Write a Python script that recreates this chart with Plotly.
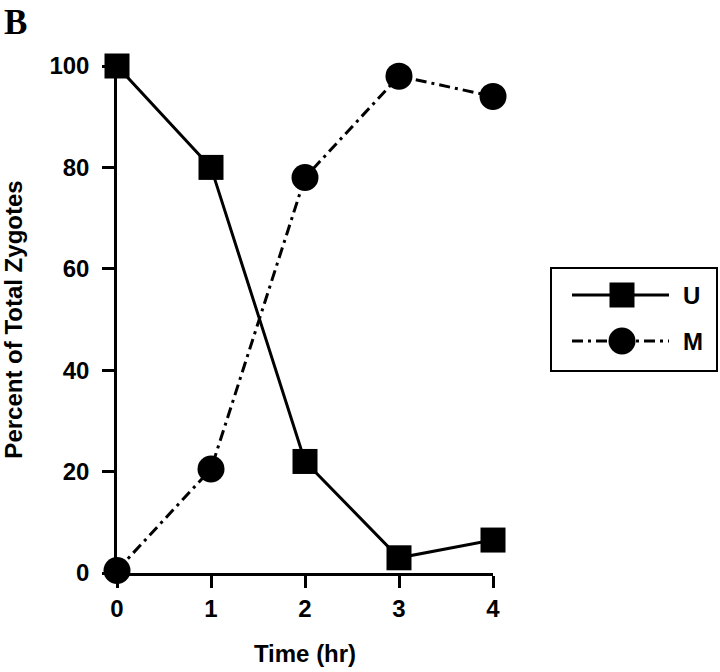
import plotly.graph_objects as go

time_hr = [0, 1, 2, 3, 4]
u_values = [100, 80, 22, 3, 6.5]
m_values = [0.5, 20.5, 78, 98, 94]
x_ticks = [0, 1, 2, 3, 4]
y_ticks = [0, 20, 40, 60, 80, 100]
series_names = ["U", "M"]

FONT = "Liberation Sans, Arial, sans-serif"
W, H = 720, 672
# plot area in pixels
PX0, PX1, PY0, PY1 = 117, 493, 66, 573
# legend box in pixels
LX0, LX1, LY0, LY1 = 552, 716, 269, 370
LEG_LINE = (572, 622, 669)
LEG_ROWS = (295, 341)

U_LINE = dict(color="black", width=3, dash="solid")
M_LINE = dict(color="black", width=3, dash="11px,5px,3px,5px")
U_MARK = dict(symbol="square", size=25, color="black")
M_MARK = dict(symbol="circle", size=27, color="black")

fig = go.Figure()
fig.add_trace(go.Scatter(x=time_hr, y=u_values, name=series_names[0], mode="lines+markers",
                         line=U_LINE, marker=U_MARK, cliponaxis=False, showlegend=False))
fig.add_trace(go.Scatter(x=time_hr, y=m_values, name=series_names[1], mode="lines+markers",
                         line=M_LINE, marker=M_MARK, cliponaxis=False, showlegend=False))

# legend samples drawn on an overlay axis whose units are pixels
for row_y, line, mark in zip(LEG_ROWS, (U_LINE, M_LINE), (U_MARK, M_MARK)):
    fig.add_trace(go.Scatter(x=list(LEG_LINE), y=[row_y] * 3, mode="lines", line=line,
                             xaxis="x2", yaxis="y2", showlegend=False, hoverinfo="skip",
                             cliponaxis=False))
    fig.add_trace(go.Scatter(x=[LEG_LINE[1]], y=[row_y], mode="markers", marker=mark,
                             xaxis="x2", yaxis="y2", showlegend=False, hoverinfo="skip",
                             cliponaxis=False))

TF = dict(family=FONT, size=24, color="black", weight="bold")
axis_common = dict(
    showgrid=False, zeroline=False, showline=True, linecolor="black", linewidth=2.5,
    ticks="outside", ticklen=12, tickwidth=2.5, tickcolor="black",
    tickfont=TF, automargin=False,
)

fig.update_layout(
    width=W, height=H,
    paper_bgcolor="white", plot_bgcolor="white",
    margin=dict(l=0, r=0, t=0, b=0),
    showlegend=False,
    xaxis=dict(range=[0, 4], tickvals=x_ticks, ticktext=[str(v) for v in x_ticks],
               domain=[PX0 / W, PX1 / W], ticklabelstandoff=0,
               title=dict(text="Time (hr)", font=TF, standoff=25),
               **axis_common),
    yaxis=dict(range=[0, 100], tickvals=y_ticks, ticktext=[str(v) for v in y_ticks],
               domain=[(H - PY1) / H, (H - PY0) / H], ticklabelstandoff=8,
               title=dict(text="Percent of Total Zygotes", font=TF, standoff=25),
               **axis_common),
    xaxis2=dict(domain=[LX0 / W, LX1 / W], range=[LX0, LX1], anchor="y2",
                showgrid=False, zeroline=False, showticklabels=False, ticks="",
                showline=True, mirror=True, linecolor="black", linewidth=2),
    yaxis2=dict(domain=[(H - LY1) / H, (H - LY0) / H], range=[LY1, LY0], anchor="x2",
                showgrid=False, zeroline=False, showticklabels=False, ticks="",
                showline=True, mirror=True, linecolor="black", linewidth=2),
    annotations=[
        dict(text="<b>B</b>", x=2 / W, y=1 - 1 / H, xref="paper", yref="paper",
             xanchor="left", yanchor="top", showarrow=False,
             font=dict(family="Liberation Serif, Times New Roman, serif", size=35, color="black")),
    ] + [
        dict(text=name, x=681, y=row_y, xref="x2", yref="y2", xanchor="left", yanchor="middle",
             showarrow=False, font=TF)
        for name, row_y in zip(series_names, LEG_ROWS)
    ],
)

fig.write_html("out.html", config={"displayModeBar": False},
               post_script="document.body.style.margin='0';")
